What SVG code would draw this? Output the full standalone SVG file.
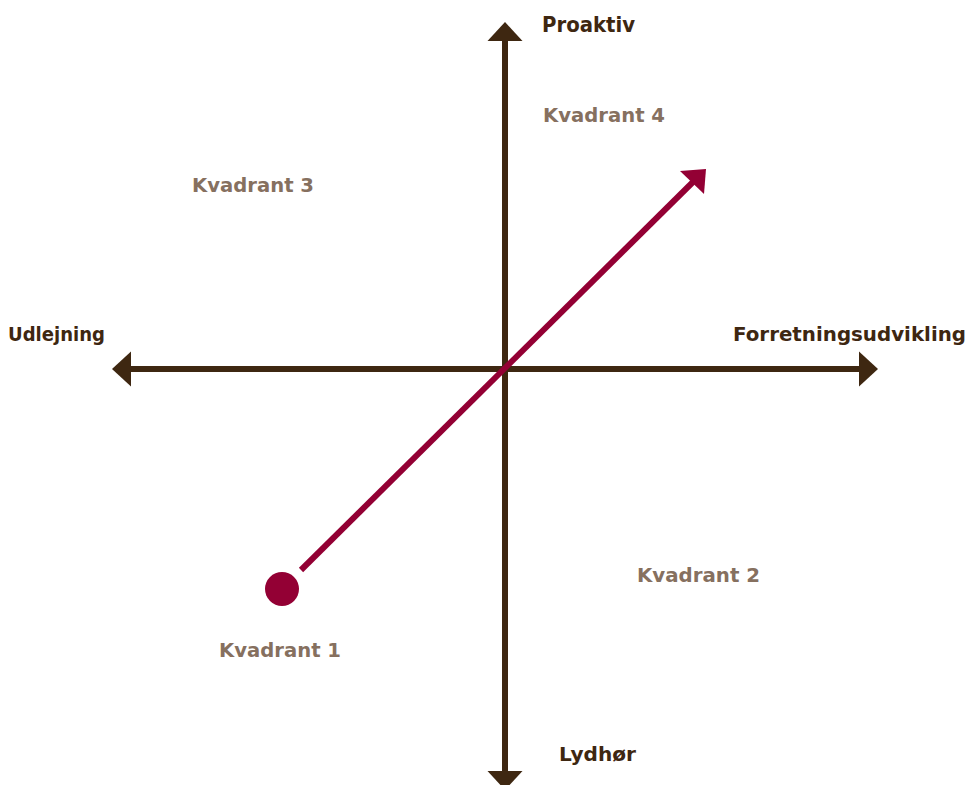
<svg xmlns="http://www.w3.org/2000/svg" width="969" height="785" viewBox="0 0 969 785">
<style>
.axis{stroke:#3e2711;stroke-width:6;fill:none}
.head{fill:#3e2711}
.lbl{font-family:"DejaVu Sans","Liberation Sans",sans-serif;font-weight:bold;font-size:20px;fill:#3e2711}
.q{font-family:"DejaVu Sans","Liberation Sans",sans-serif;font-weight:bold;font-size:20px;fill:#86705f}
.red{stroke:#930034;stroke-width:6;fill:none}
</style>
<rect width="969" height="785" fill="#ffffff"/>
<g id="connectors">
<line class="axis" x1="505" y1="38" x2="505" y2="775"/>
<polygon class="head" points="505,22 487.5,41 522.5,41"/>
<polygon class="head" points="505,790 487.5,771 522.5,771"/>
<line class="axis" x1="128" y1="369" x2="862" y2="369"/>
<polygon class="head" points="112,369 131,351.5 131,386.5"/>
<polygon class="head" points="878,369 859,351.5 859,386.5"/>
<line class="red" x1="301" y1="570" x2="694" y2="181"/>
<polygon points="706,169 680,171 704,194" fill="#930034"/>
</g>
<g id="start-dot"><circle cx="282" cy="589" r="17" fill="#930034"/></g>
<g id="label-proaktiv"><text class="lbl" x="542" y="32" style="font-size:21px" textLength="93" lengthAdjust="spacingAndGlyphs">Proaktiv</text></g>
<g id="label-lydhor"><text class="lbl" x="559" y="761" textLength="77" lengthAdjust="spacingAndGlyphs">Lydhør</text></g>
<g id="label-udlejning"><text class="lbl" x="8" y="341" textLength="97" lengthAdjust="spacingAndGlyphs">Udlejning</text></g>
<g id="label-forretning"><text class="lbl" x="733" y="341" textLength="233" lengthAdjust="spacingAndGlyphs">Forretningsudvikling</text></g>
<g id="kvadrant-4"><text class="q" x="543" y="122" textLength="122" lengthAdjust="spacingAndGlyphs">Kvadrant 4</text></g>
<g id="kvadrant-3"><text class="q" x="192" y="192" textLength="122" lengthAdjust="spacingAndGlyphs">Kvadrant 3</text></g>
<g id="kvadrant-2"><text class="q" x="637" y="582" textLength="123" lengthAdjust="spacingAndGlyphs">Kvadrant 2</text></g>
<g id="kvadrant-1"><text class="q" x="219" y="657" textLength="122" lengthAdjust="spacingAndGlyphs">Kvadrant 1</text></g>
</svg>
